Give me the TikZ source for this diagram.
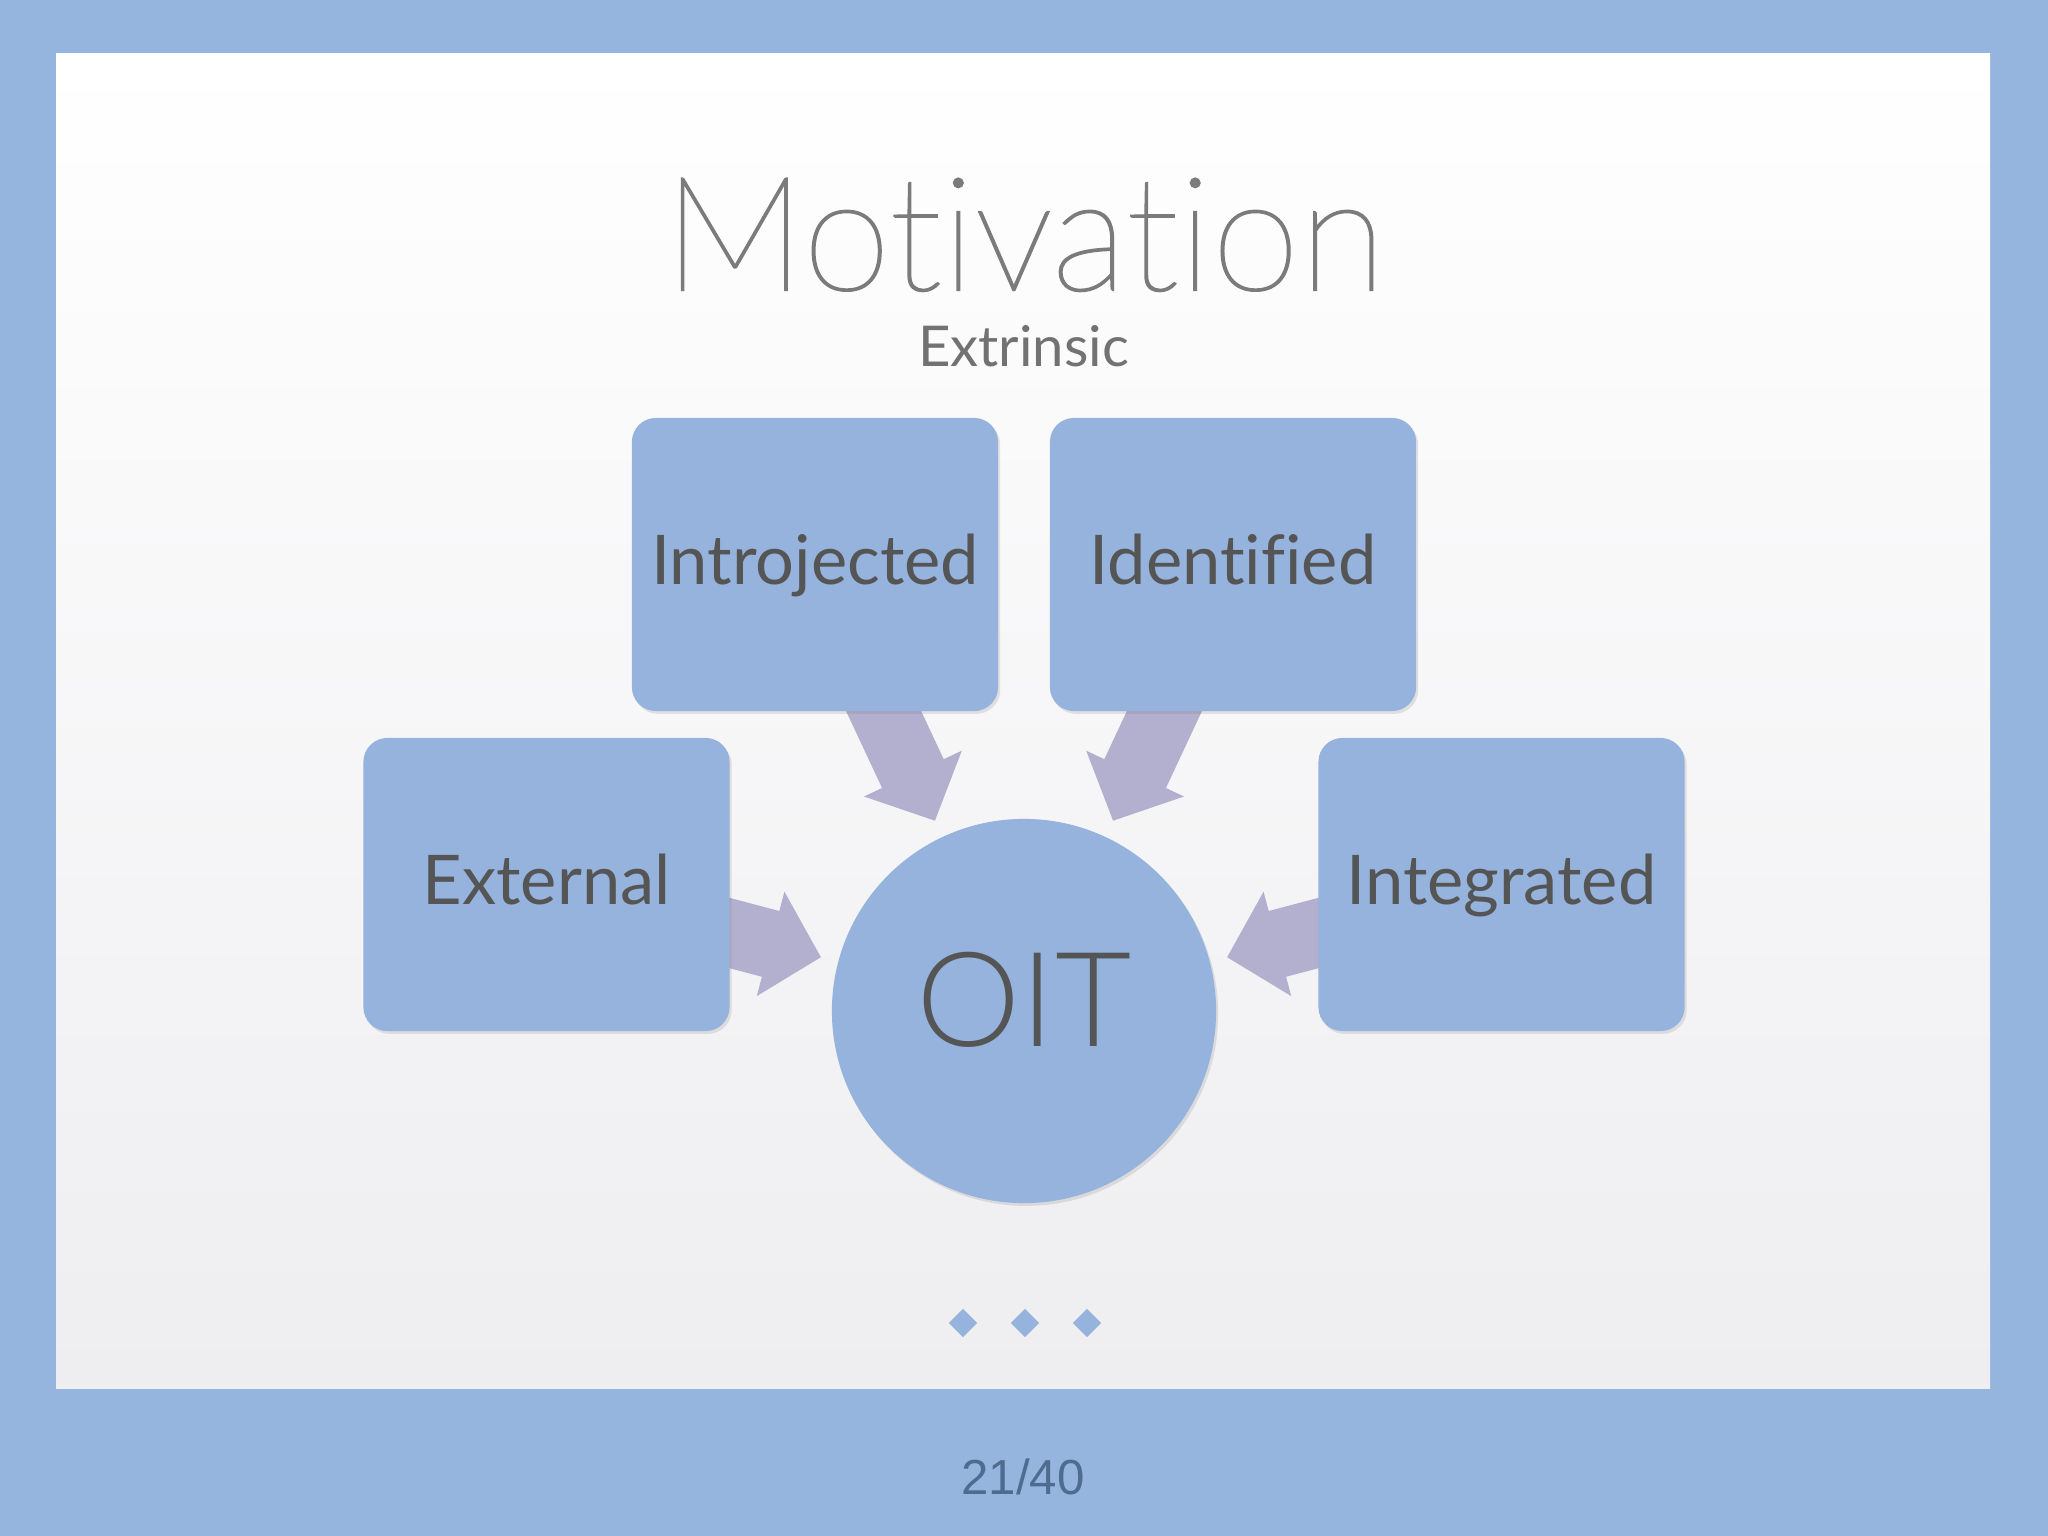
\documentclass[tikz,border=0pt]{standalone}
\usepackage{fontspec}
\setmainfont{Lato}[Ligatures={NoCommon}]
\newfontfamily\titlefont{Lato Thin}[Ligatures={NoCommon},FakeBold=1.3]
\newfontfamily\lightfont{Lato Light}[Ligatures={NoCommon}]
\newfontfamily\numfont{Liberation Sans}
\usetikzlibrary{calc,shadows,shapes.geometric}

\definecolor{frameblue}{HTML}{95B5DE}
\definecolor{boxblue}{HTML}{95B3DC}
\definecolor{arrowlav}{HTML}{B3B0CF}
\definecolor{labelgray}{HTML}{555555}
\definecolor{titlegray}{HTML}{7B7B7B}
\definecolor{subgray}{HTML}{727272}
\definecolor{numblue}{HTML}{4E6C8F}
\definecolor{panelbottom}{HTML}{EEEDF0}

\pgfdeclarelayer{back}
\pgfdeclarelayer{mid}
\pgfsetlayers{back,mid,main}

\newcommand\blkarrow[2]{% #1 = target circle, #2 = source box
  \coordinate (T) at ($(#1.center)!2.1cm!(#2.center)$);
  \coordinate (S) at ($(#1.center)!3.7cm!(#2.center)$);
  \coordinate (H) at ($(T)!0.52cm!(S)$);
  \fill[arrowfill] (T) -- ($(H)!0.54cm!90:(T)$) -- ($(H)!0.34cm!90:(T)$)
    -- ($(S)!0.34cm!90:(T)$) -- ($(S)!0.34cm!-90:(T)$)
    -- ($(H)!0.34cm!-90:(T)$) -- ($(H)!0.54cm!-90:(T)$) -- cycle;
}

\tikzset{
  arrowfill/.style={fill=arrowlav},
  softshadow/.style={drop shadow={shadow xshift=0.6pt, shadow yshift=-0.8pt, opacity=0.16, fill=black!60}},
  box/.style={rectangle, rounded corners=0.24cm, fill=boxblue, minimum width=3.66cm,
    minimum height=2.93cm, inner sep=0pt, text=labelgray,
    font=\fontsize{19.5}{24}\selectfont, text height=0.6cm, text depth=0.2cm, softshadow},
  hub/.style={circle, fill=boxblue, minimum size=3.84cm, inner sep=0pt, text=labelgray,
    font=\lightfont\fontsize{37.5}{40}\selectfont, text height=0.9cm, text depth=0.2cm, softshadow},
  dot/.style={diamond, fill=boxblue, minimum width=0.29cm, minimum height=0.29cm, inner sep=0pt},
}

\begin{document}
\begin{tikzpicture}[x=0.01cm, y=-0.01cm]
\useasboundingbox (0,0) rectangle (2048,1536);
\begin{pgfonlayer}{back}
  \fill[frameblue] (0,0) rectangle (2048,1536);
  \shade[top color=white, bottom color=panelbottom] (56,53) rectangle (1990,1388);
\end{pgfonlayer}

\node[font=\titlefont\fontsize{45.3}{50}\selectfont, text=titlegray, anchor=base] (title) at (1024.5,290) {Motivation};
\node[font=\fontsize{16}{20}\selectfont, text=subgray, anchor=base] (sub) at (1023.5,366) {Extrinsic};

\node[box] (intro) at (815,564.5) {Introjected};
\node[box] (ident) at (1233,564.5) {Identified};
\node[box] (ext) at (546.5,884.5) {External};
\node[box] (integ) at (1501.5,884.5) {Integrated};
\node[hub] (oit) at (1024,1011) {OIT};

\begin{pgfonlayer}{mid}
  \blkarrow{oit}{intro}
  \blkarrow{oit}{ident}
  \blkarrow{oit}{ext}
  \blkarrow{oit}{integ}
\end{pgfonlayer}

\node[dot] (d1) at (963,1323) {};
\node[dot] (d2) at (1025,1323) {};
\node[dot] (d3) at (1087,1323) {};

\node[font=\numfont\fontsize{14}{18}\selectfont, text=numblue, anchor=base] (page) at (1023,1494) {21/40};
\end{tikzpicture}
\end{document}
